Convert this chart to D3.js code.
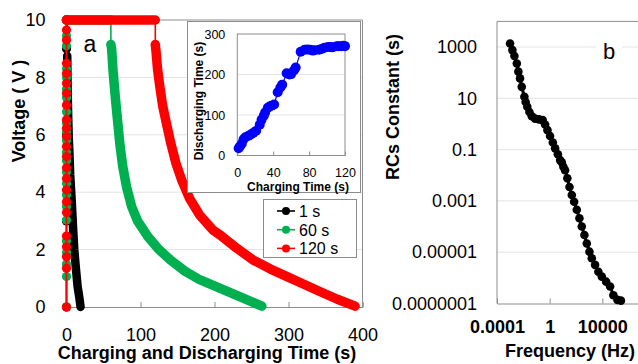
<!DOCTYPE html>
<html>
<head>
<meta charset="utf-8">
<script src="https://cdn.jsdelivr.net/npm/d3@7"></script>
<style>
  body { margin: 0; background: #fff; }
  svg { font-family: "Liberation Sans", Arial, sans-serif; }
</style>
</head>
<body>
<svg id="chart" width="638" height="364"></svg>
<script>
// ---- panel a : charge / discharge curves ----
const voltTicks = [0, 2, 4, 6, 8, 10];
const timeTicks = [0, 100, 200, 300, 400];

// charging points (all at t ~ 0)
const charge1V = [0, 3, 6, 9, 10];
const charge60V = [0, 1.06, 1.5, 1.9, 2.3, 3.03, 3.5, 3.9, 4.3, 4.7, 5.1, 5.4, 5.8, 6.1, 6.4, 6.8, 7.3, 7.6, 8.0, 8.3, 9.1, 9.45, 10];
const charge120V = [0, 1.35, 1.75, 2.10, 2.47, 3.29, 3.67, 4.08, 4.48, 4.85, 5.24, 5.59, 5.94, 6.23, 6.52, 7.04, 7.45, 7.80, 8.14, 8.49, 9.30, 9.65, 10];

// hold time at 10 V
const holdTimes = [1, 60, 120];

// discharge
const dis1T = [1, 1.3, 1.8, 2.4, 3.0, 3.8, 5, 7, 9, 10.5, 12.5, 15, 17.5, 19];
const dis1V = [8.75, 8.0, 7.2, 6.5, 5.9, 5.47, 4.6, 3.73, 2.7, 2.0, 1.4, 0.72, 0.3, 0.0];
const dis60T = [60, 61, 63, 66, 69, 72, 76, 81, 88, 96, 110, 125, 140, 160, 180, 207, 234, 264];
const dis60V = [9.15, 9.0, 8.2, 7.3, 6.5, 5.7, 4.9, 4.2, 3.5, 3.0, 2.45, 2.0, 1.65, 1.25, 0.95, 0.66, 0.36, 0.03];
const dis120T = [120, 121, 123, 126, 130, 135, 141, 148, 156, 166, 180, 198, 208, 230, 252, 275, 298, 320, 343, 366, 390];
const dis120V = [9.15, 8.9, 8.3, 7.7, 7.0, 6.4, 5.7, 5.0, 4.4, 3.8, 3.2, 2.68, 2.5, 2.05, 1.64, 1.33, 1.06, 0.8, 0.53, 0.27, 0.03];

const seriesNames = ["1 s", "60 s", "120 s"];
const seriesColors = ["#000000", "#00b050", "#ff0000"];

// ---- inset ----
const insetTimeTicks = [0, 40, 80, 120];
const insetDisTicks = [0, 100, 200, 300];
const chargingTime = [1.5, 3, 5, 7, 9, 12.7, 15, 18, 21, 25, 27, 29.5, 31, 34, 36, 38, 41, 45, 48, 50, 55, 58, 60, 63, 65, 70.6, 75, 78, 81, 84, 86, 91, 94, 97, 101, 104, 106, 111, 113, 116, 118, 120];
const dischargingTime = [18, 23, 29, 40, 45, 49, 52, 56, 61, 76, 88, 98, 106, 118, 121, 123, 126, 156, 168, 175, 203, 200, 201, 210, 217, 256, 261, 262, 261, 259, 260, 261, 263, 266, 268, 268, 267, 270, 270, 270, 271, 270];

// ---- panel b : RC constant vs frequency ----
const freqTicks = [1e-4, 1, 1e4];
const rcTicks = [1e-7, 1e-5, 1e-3, 1e-1, 10, 1000];
const freqLabels = ["0.0001", "1", "10000"];
const rcLabels = ["0.0000001", "0.00001", "0.001", "0.1", "10", "1000"];
const frequency = [9.8e-4, 1.48e-3, 2.1e-3, 3.2e-3, 4.2e-3, 5.6e-3, 7.6e-3, 0.012, 0.015, 0.02, 0.029, 0.044, 0.078, 0.155, 0.295, 0.45, 0.68, 1.07, 1.74, 2.6, 4.2, 6.2, 8.3, 11, 14.8, 22, 32, 48, 72, 115, 182, 275, 436, 660, 1050, 1580, 2820, 5000, 9100, 19500, 38900, 69000, 141000, 257000];
const rcConstant = [1380, 760, 447, 229, 110, 60, 28, 11.5, 7.2, 4.7, 2.95, 2.0, 1.62, 1.51, 1.41, 0.95, 0.575, 0.34, 0.19, 0.112, 0.066, 0.039, 0.032, 0.0214, 0.0158, 0.0076, 0.0035, 0.0017, 0.00093, 0.00045, 0.00021, 0.0001, 4.7e-5, 2.2e-5, 1.05e-5, 5.8e-6, 3.2e-6, 1.74e-6, 1.12e-6, 7.1e-7, 4.6e-7, 2.1e-7, 1.38e-7, 1.29e-7];

const svg = d3.select("#chart");
svg.append("rect").attr("width", 638).attr("height", 364).attr("fill", "#fff");

const gridCol = "#e3e3e3", borderCol = "#8c8c8c";

// ================= panel a =================
const x = d3.scaleLinear().domain([0, 400]).range([66.5, 362.5]);
const y = d3.scaleLinear().domain([0, 10]).range([307, 20]);

const ga = svg.append("g");
ga.selectAll("line.grid").data(voltTicks.filter(v => v > 0 && v < 10)).enter()
  .append("line").attr("class", "grid")
  .attr("x1", x(0)).attr("x2", x(400))
  .attr("y1", d => y(d)).attr("y2", d => y(d))
  .attr("stroke", gridCol).attr("stroke-width", 1);
// frame: top, right
ga.append("path")
  .attr("d", `M${x(0)},${y(10)}H${x(400)}V${y(0)}`)
  .attr("fill", "none").attr("stroke", borderCol);

const xAxisA = ga.append("g").attr("transform", `translate(0,${y(0)})`)
  .call(d3.axisBottom(x).tickValues(timeTicks).tickSize(-5).tickPadding(21));
const yAxisA = ga.append("g").attr("transform", `translate(${x(0)},0)`)
  .call(d3.axisLeft(y).tickValues(voltTicks).tickSize(0).tickPadding(21));
[xAxisA, yAxisA].forEach(a => {
  a.select(".domain").attr("stroke", borderCol);
  a.selectAll(".tick line").attr("stroke", borderCol);
  a.selectAll("text").attr("font-size", 18).attr("fill", "#000").attr("font-family", null);
});
yAxisA.select(".domain").remove();

const lineA = d3.line().x(d => x(d[0])).y(d => y(d[1]));

function drawSeries(i, chargeV, holdEnd, disT, disV, bandW) {
  const col = seriesColors[i];
  const chargePts = chargeV.map(v => [0, v]);
  const holdPts = [[0, 10], [holdEnd, 10]];
  const disPts = disT.map((t, k) => [t, disV[k]]);
  const g = ga.append("g");
  // thin connector
  g.append("path").attr("d", lineA(chargePts.concat(holdPts, disPts)))
    .attr("fill", "none").attr("stroke", col).attr("stroke-width", 1.6);
  // dense marker bands
  g.append("path").attr("d", lineA(holdPts))
    .attr("fill", "none").attr("stroke", col).attr("stroke-width", 9.5).attr("stroke-linecap", "round");
  g.append("path").attr("d", lineA(disPts))
    .attr("fill", "none").attr("stroke", col).attr("stroke-width", bandW)
    .attr("stroke-linecap", "round").attr("stroke-linejoin", "round");
  g.selectAll("circle").data(chargePts).enter().append("circle")
    .attr("cx", d => x(d[0])).attr("cy", d => y(d[1])).attr("r", 4.6).attr("fill", col);
}
drawSeries(0, charge1V, holdTimes[0], dis1T, dis1V, 8.5);
drawSeries(1, charge60V, holdTimes[1], dis60T, dis60V, 9.5);
drawSeries(2, charge120V, holdTimes[2], dis120T, dis120V, 9.5);

ga.append("text").attr("x", 90).attr("y", 52).attr("text-anchor", "middle")
  .attr("font-size", 23).text("a");

// axis titles a
svg.append("text").attr("x", 207).attr("y", 359).attr("text-anchor", "middle")
  .attr("font-size", 18).attr("font-weight", "bold").text("Charging and Discharging Time (s)");
svg.append("text").attr("transform", "translate(25,111) rotate(-90)").attr("text-anchor", "middle")
  .attr("font-size", 18).attr("font-weight", "bold").text("Voltage ( V )");

// legend
const lg = svg.append("g");
lg.append("rect").attr("x", 263.5).attr("y", 199.5).attr("width", 93).attr("height", 58)
  .attr("fill", "#fff").attr("stroke", borderCol);
seriesNames.forEach((name, i) => {
  const ly = 211 + i * 18.7;
  lg.append("line").attr("x1", 277).attr("x2", 295).attr("y1", ly).attr("y2", ly)
    .attr("stroke", seriesColors[i]).attr("stroke-width", 1.6);
  lg.append("circle").attr("cx", 286).attr("cy", ly).attr("r", 4).attr("fill", seriesColors[i]);
  lg.append("text").attr("x", 299).attr("y", ly + 6).attr("font-size", 16).text(name);
});

// ================= inset =================
const ig = svg.append("g");
ig.append("rect").attr("x", 187.5).attr("y", 21.5).attr("width", 173).attr("height", 171)
  .attr("fill", "#fff").attr("stroke", borderCol);
const ix = d3.scaleLinear().domain([0, 120]).range([237.3, 345]);
const iy = d3.scaleLinear().domain([0, 300]).range([155.5, 34]);
ig.selectAll("line.grid").data([100, 200]).enter().append("line")
  .attr("x1", ix(0)).attr("x2", ix(120)).attr("y1", d => iy(d)).attr("y2", d => iy(d))
  .attr("stroke", gridCol);
ig.append("rect").attr("x", ix(0)).attr("y", iy(300)).attr("width", ix(120) - ix(0))
  .attr("height", iy(0) - iy(300)).attr("fill", "none").attr("stroke", borderCol);
const ixAxis = ig.append("g").attr("transform", `translate(0,${iy(0)})`)
  .call(d3.axisBottom(ix).tickValues(insetTimeTicks).tickSize(-4).tickPadding(13));
const iyAxis = ig.append("g").attr("transform", `translate(${ix(0)},0)`)
  .call(d3.axisLeft(iy).tickValues(insetDisTicks).tickSize(0).tickPadding(12));
[ixAxis, iyAxis].forEach(a => {
  a.select(".domain").remove();
  a.selectAll(".tick line").attr("stroke", borderCol);
  a.selectAll("text").attr("font-size", 12.5).attr("fill", "#000").attr("font-family", null);
});
const insetPts = chargingTime.map((t, k) => [t, dischargingTime[k]]);
ig.append("path").attr("d", d3.line().x(d => ix(d[0])).y(d => iy(d[1]))(insetPts))
  .attr("fill", "none").attr("stroke", "#0000ff").attr("stroke-width", 1.2);
ig.selectAll("circle").data(insetPts).enter().append("circle")
  .attr("cx", d => ix(d[0])).attr("cy", d => iy(d[1])).attr("r", 5).attr("fill", "#0000ff");
ig.append("text").attr("x", 298).attr("y", 190.5).attr("text-anchor", "middle")
  .attr("font-size", 12).attr("font-weight", "bold").text("Charging Time (s)");
ig.append("text").attr("transform", "translate(203,101) rotate(-90)").attr("text-anchor", "middle")
  .attr("font-size", 12).attr("font-weight", "bold").text("Discharging Time (s)");

// ================= panel b =================
const bx = d3.scaleLog().domain([1e-4, 1e8]).range([497, 655]);
const by = d3.scaleLog().domain([1e-7, 1e4]).range([303.5, 21.4]);
const gb = svg.append("g");
gb.selectAll("line.grid").data(rcTicks.slice(1)).enter().append("line")
  .attr("x1", bx(1e-4)).attr("x2", bx(1e8)).attr("y1", d => by(d)).attr("y2", d => by(d))
  .attr("stroke", gridCol);
gb.append("path").attr("d", `M${bx(1e-4)},${by(1e-7)}V${by(1e4)}H${bx(1e8)}`)
  .attr("fill", "none").attr("stroke", borderCol);
const bxAxis = gb.append("g").attr("transform", `translate(0,${by(1e-7)})`)
  .call(d3.axisBottom(bx).tickValues(freqTicks).tickSize(-5).tickPadding(17)
    .tickFormat((d, k) => freqLabels[k]));
const byAxis = gb.append("g").attr("transform", `translate(${bx(1e-4)},0)`)
  .call(d3.axisLeft(by).tickValues(rcTicks).tickSize(0).tickPadding(20)
    .tickFormat((d, k) => rcLabels[k]));
bxAxis.select(".domain").attr("stroke", borderCol);
bxAxis.selectAll(".tick line").attr("stroke", borderCol);
bxAxis.selectAll("text").attr("font-size", 18).attr("font-weight", "bold").attr("fill", "#000").attr("font-family", null);
byAxis.select(".domain").remove();
byAxis.selectAll("text").attr("font-size", 18).attr("fill", "#000").attr("font-family", null);

const bPts = frequency.map((f, k) => [f, rcConstant[k]]);
gb.append("path").attr("d", d3.line().x(d => bx(d[0])).y(d => by(d[1]))(bPts))
  .attr("fill", "none").attr("stroke", "#000").attr("stroke-width", 3);
gb.selectAll("circle").data(bPts).enter().append("circle")
  .attr("cx", d => bx(d[0])).attr("cy", d => by(d[1])).attr("r", 4.3).attr("fill", "#000");

gb.append("rect").attr("x", 596).attr("y", 38).attr("width", 26).attr("height", 24).attr("fill", "#fff");
gb.append("text").attr("x", 609).attr("y", 59).attr("text-anchor", "middle").attr("font-size", 22).text("b");

svg.append("text").attr("x", 570).attr("y", 357).attr("text-anchor", "middle")
  .attr("font-size", 18).attr("font-weight", "bold").text("Frequency (Hz)");
svg.append("text").attr("transform", "translate(399,107) rotate(-90)").attr("text-anchor", "middle")
  .attr("font-size", 18).attr("font-weight", "bold").text("RCs Constant (s)");
</script>
</body>
</html>
